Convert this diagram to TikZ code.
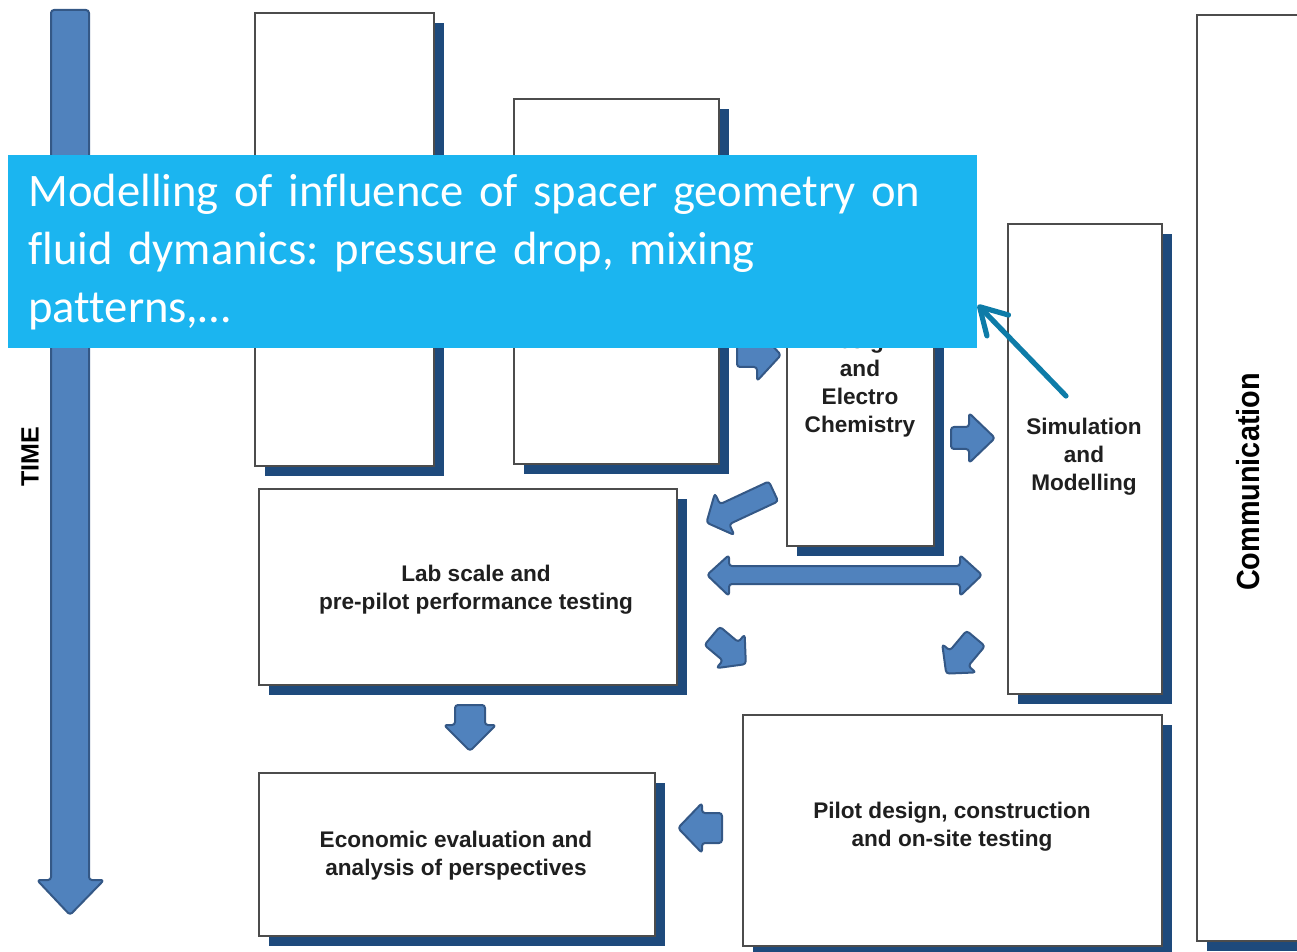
\documentclass[tikz,border=0pt]{standalone}
\usepackage{fontspec}
\setmainfont{Liberation Sans}
\newfontfamily\notefont[Ligatures=NoCommon]{Carlito}
\newfontfamily\narrowfont[FakeStretch=0.9]{Liberation Sans}
\usetikzlibrary{arrows.meta, shadows}
\frenchspacing

\definecolor{arrowblue}{RGB}{80,130,189}
\definecolor{arrowedge}{RGB}{52,88,134}
\definecolor{shadownavy}{RGB}{30,74,124}
\definecolor{notecyan}{RGB}{27,181,240}
\definecolor{pointerteal}{RGB}{14,124,168}

\tikzset{
  stage/.style={draw=black!70, line width=1pt, fill=white, inner sep=0pt,
    anchor=north west,
    drop shadow={shadow xshift=5pt, shadow yshift=-5pt, fill=shadownavy, opacity=1}},
  stagetext/.style={font=\bfseries\fontsize{11.3}{14}\selectfont, align=center, text=black!88},
  blockarrow/.style={fill=arrowblue, draw=arrowedge, line width=1pt,
    rounded corners=1.5pt, line join=round},
  note/.style={fill=notecyan, text=white, anchor=north west, align=left,
    font=\notefont\fontsize{23.3}{29}\selectfont,
    text width=464.5pt, inner xsep=10pt, inner ysep=0pt, minimum height=96.5pt},
  pointer/.style={draw=pointerteal, line width=2.6pt, line cap=round,
    -{Straight Barb[length=13pt, width=15pt, round]}},
}

% centre, angle, length, shaft width, head width, head length
\newcommand{\barrow}[6]{%
  \draw[blockarrow, shift={#1}, rotate=#2]
    (-#3/2,-#4/2) -- (#3/2-#6,-#4/2) -- (#3/2-#6,-#5/2) -- (#3/2,0)
    -- (#3/2-#6,#5/2) -- (#3/2-#6,#4/2) -- (-#3/2,#4/2) -- cycle;}

\begin{document}
\begin{tikzpicture}[x=0.5pt, y=-0.5pt]
  \clip (0,0) rectangle (1297,952);

  % time axis
  \draw[blockarrow] (51,10) -- (89,10) -- (89,880) -- (104,880) -- (70,915)
    -- (37,880) -- (51,880) -- cycle;
  \node[font=\bfseries\fontsize{12.5}{14}\selectfont, rotate=90] (time) at (30,457) {TIME};

  % work package boxes
  \node[stage, minimum width=89.5pt, minimum height=226.5pt] (blankA) at (254,12) {};
  \node[stage, minimum width=102.5pt, minimum height=182.5pt] (blankB) at (513,98) {};
  \node[stage, minimum width=73.5pt, minimum height=157.5pt] (design) at (786,230) {};
  \node[stage, minimum width=77pt, minimum height=235pt] (sim) at (1007,223) {};
  \node[stage, minimum width=209pt, minimum height=98pt] (lab) at (258,488) {};
  \node[stage, minimum width=198pt, minimum height=81.5pt] (econ) at (258,772) {};
  \node[stage, minimum width=209.5pt, minimum height=115.5pt] (pilot) at (742,714) {};
  \node[stage, minimum width=62pt, minimum height=463pt] (comm) at (1196,14) {};

  \node[stagetext] (designtext) at (860,385) {Design\\and\\Electro\\Chemistry};
  \node[stagetext] (simtext) at (1084,457) {Simulation\\and\\Modelling};
  \node[stagetext] (labtext) at (476,590) {Lab scale and\\pre-pilot performance testing};
  \node[stagetext] (econtext) at (456,856) {Economic evaluation and\\analysis of perspectives};
  \node[stagetext] (pilottext) at (952,827) {Pilot design, construction\\and on-site testing};
  \node[font=\narrowfont\bfseries\fontsize{16}{18}\selectfont, rotate=90] (commtext) at (1248,482) {Communication};

  % block arrows between the boxes
  \barrow{(759,355)}{0}{44}{24}{52}{24}
  \barrow{(973,438)}{0}{44}{22}{50}{26}
  \barrow{(740,507)}{205}{74}{22}{46}{20}
  \barrow{(729,650)}{-40}{44}{24}{44}{20}
  \barrow{(961,656)}{230}{46}{24}{44}{20}
  \barrow{(470,728)}{-90}{46}{30}{52}{26}
  \barrow{(700,828)}{180}{44}{30}{50}{24}
  \draw[blockarrow] (707,575) -- (729,555) -- (729,566) -- (960,566) -- (960,555)
    -- (982,575) -- (960,596) -- (960,584) -- (729,584) -- (729,596) -- cycle;

  % callout
  \node[note] (note) at (8,155) {Modelling of influence of spacer geometry on\\fluid dymanics: pressure drop, mixing\\patterns,…};
  \coordinate (pinfoot) at (1066,396);
  \draw[pointer] (pinfoot) -- ([yshift=-26.5pt]note.east);
\end{tikzpicture}
\end{document}
